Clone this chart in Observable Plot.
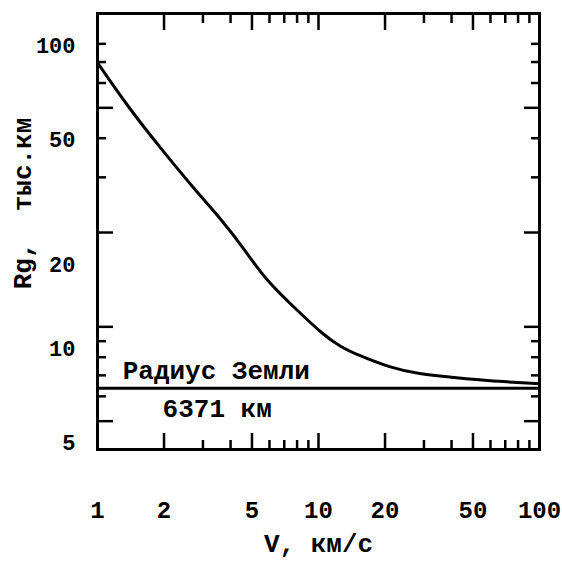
<!DOCTYPE html>
<html>
<head>
<meta charset="utf-8">
<script src="https://cdn.jsdelivr.net/npm/d3@7"></script>
<script src="https://cdn.jsdelivr.net/npm/@observablehq/plot@0.6"></script>
<style>
  body { margin: 0; background: #fff; }
  svg { display: block; }
</style>
</head>
<body>
<div id="chart"></div>
<script>
// Curve: gravitational radius Rg (thousand km) vs velocity V (km/s)
const speedV   = [1, 1.38, 1.97, 2.78, 3.68, 4.67, 5.76, 7.87, 10.5, 12.6, 15, 21.2, 28, 42.6, 60, 100];
const radiusRg = [69.7, 50.1, 36.5, 27.2, 21.8, 17.5, 14.13, 11.42, 9.43, 8.63, 8.14, 7.4, 7.08, 6.87, 6.72, 6.58];

// Earth radius (thousand km)
const earthRadius = [6.371];
const earthLabelTop = "Радиус Земли";
const earthLabelBottom = "6371 км";

// Axis ticks
const xTicksMajor = [2, 5, 10, 20, 50];
const xTicksMinor = [3, 4, 6, 7, 8, 9, 30, 40, 60, 70, 80, 90];
const xTickLabels = [1, 2, 5, 10, 20, 50, 100];
const yTicksMajor = [5, 10, 20, 50];
const yTicksMinor = [6, 7, 8, 9, 30, 40, 60, 70, 80];
const yTickLabelsUpper = [100, 50, 20];
const yTickLabelsLower = [10, 5];

const xLabel = "V, км/с";
const yLabel = "Rg,  тыс.км";

const curveData = speedV.map((v, i) => ({v, rg: radiusRg[i]}));

const font = "'Liberation Mono', 'DejaVu Sans Mono', monospace";
const fmt = d => String(d);
const noText = () => "";

function tickX(anchor, ticks, size) {
  return Plot.axisX({anchor, ticks, tickSize: -size, tickFormat: noText, label: null, strokeWidth: 2.5});
}
function tickY(anchor, ticks, size) {
  return Plot.axisY({anchor, ticks, tickSize: -size, tickFormat: noText, label: null, strokeWidth: 2.5});
}

const chart = Plot.plot({
  width: 562,
  height: 568,
  marginLeft: 97,
  marginRight: 23,
  marginTop: 13,
  marginBottom: 119,
  style: {background: "white", color: "black", fontFamily: font, fontWeight: "bold"},
  x: {type: "log", domain: [1, 100], axis: null},
  y: {type: "log", domain: [4.06, 100], axis: null},
  marks: [
    // ticks (pointing inward) on all four sides
    tickX("bottom", xTicksMajor, 16),
    tickX("bottom", xTicksMinor, 9),
    tickX("top", xTicksMajor, 16),
    tickX("top", xTicksMinor, 9),
    tickY("left", yTicksMajor, 16),
    tickY("left", yTicksMinor, 9),
    tickY("right", yTicksMajor, 16),
    tickY("right", yTicksMinor, 9),
    // tick labels
    Plot.axisX({anchor: "bottom", ticks: xTickLabels, tickFormat: fmt, tickSize: 0, tickPadding: 51, label: null,
      fontSize: 24, fontWeight: "bold", fontFamily: font}),
    Plot.axisY({anchor: "left", ticks: yTickLabelsUpper, tickFormat: fmt, tickSize: 0, tickPadding: 22, label: null,
      dy: 32, fontSize: 22, fontWeight: "bold", fontFamily: font}),
    Plot.axisY({anchor: "left", ticks: yTickLabelsLower, tickFormat: fmt, tickSize: 0, tickPadding: 22, label: null,
      dy: 22, fontSize: 22, fontWeight: "bold", fontFamily: font}),
    // axis titles
    Plot.text([xLabel], {frameAnchor: "bottom", dy: 102, fontSize: 26, fontWeight: "bold", fontFamily: font}),
    Plot.text([yLabel], {frameAnchor: "left", textAnchor: "middle", rotate: -90, dx: -75, dy: -28,
      fontSize: 26, fontWeight: "bold", fontFamily: font}),
    // Earth radius line and its annotation
    Plot.ruleY(earthRadius, {stroke: "black", strokeWidth: 3}),
    Plot.text([earthLabelTop], {x: 1.3, y: earthRadius[0], textAnchor: "start", lineAnchor: "bottom", dy: -9,
      fontSize: 26, fontWeight: "bold", fontFamily: font}),
    Plot.text([earthLabelBottom], {x: 1.97, y: earthRadius[0], textAnchor: "start", lineAnchor: "top", dy: 10,
      fontSize: 26, fontWeight: "bold", fontFamily: font}),
    // curve
    Plot.line(curveData, {x: "v", y: "rg", stroke: "black", strokeWidth: 3, curve: "basis"}),
    Plot.frame({stroke: "black", strokeWidth: 3})
  ]
});

document.getElementById("chart").appendChild(chart);
</script>
</body>
</html>
